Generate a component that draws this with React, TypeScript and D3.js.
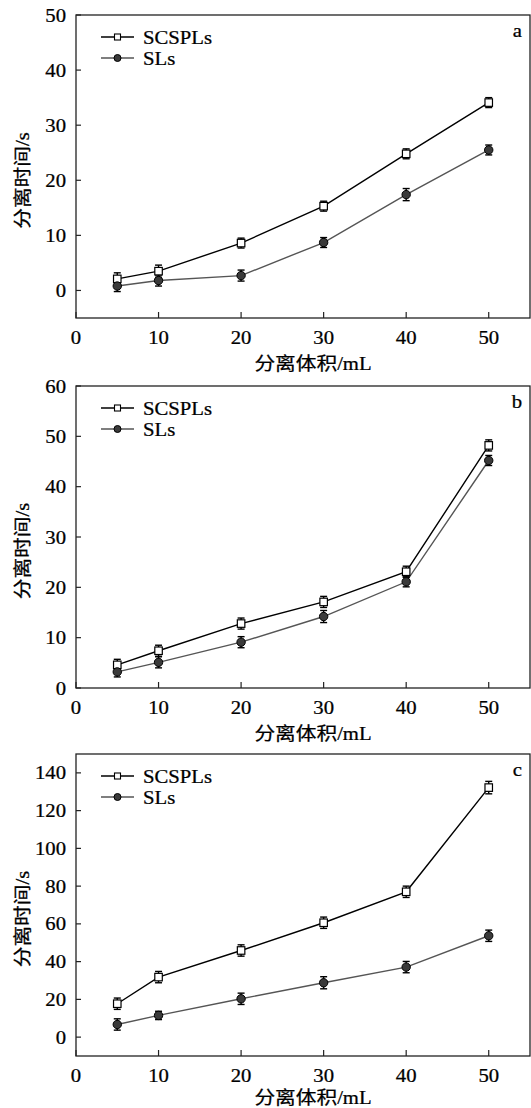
import React from "react";
import * as d3 from "d3";

const volumes = [5, 10, 20, 30, 40, 50];
const xTicks = [0, 10, 20, 30, 40, 50];

const aSCSPLs = [2.1, 3.5, 8.6, 15.3, 24.8, 34.1];
const aSCSPLsErr = [1.1, 1.1, 0.9, 0.9, 0.9, 0.9];
const aSLs = [0.8, 1.8, 2.7, 8.7, 17.4, 25.5];
const aSLsErr = [1.0, 1.0, 1.0, 0.9, 1.1, 0.9];
const aYTicks = [0, 10, 20, 30, 40, 50];

const bSCSPLs = [4.6, 7.4, 12.8, 17.1, 23.1, 48.2];
const bSCSPLsErr = [1.1, 1.1, 1.1, 1.1, 1.1, 1.1];
const bSLs = [3.2, 5.1, 9.1, 14.2, 21.1, 45.2];
const bSLsErr = [1.0, 1.1, 1.1, 1.2, 1.0, 1.0];
const bYTicks = [0, 10, 20, 30, 40, 50, 60];

const cSCSPLs = [17.7, 31.8, 45.9, 60.6, 77.0, 132.2];
const cSCSPLsErr = [3.0, 3.0, 3.0, 3.0, 3.0, 3.3];
const cSLs = [6.7, 11.5, 20.3, 28.8, 37.1, 53.7];
const cSLsErr = [3.0, 2.2, 3.0, 3.2, 3.0, 3.0];
const cYTicks = [0, 20, 40, 60, 80, 100, 120, 140];

const seriesNames = ["SCSPLs", "SLs"];
const panelLetters = ["a", "b", "c"];
const xLabel = "分离体积/mL";
const yLabel = "分离时间/s";

const FONT = "'Liberation Serif', 'Times New Roman', 'Noto Sans CJK SC', serif";
const SX = 1.15;

function T({
  x,
  y,
  anchor = "start",
  size = 18,
  rotate = 0,
  children,
}: {
  x: number;
  y: number;
  anchor?: string;
  size?: number;
  rotate?: number;
  children: React.ReactNode;
}) {
  return (
    <text
      transform={`translate(${x},${y})${rotate ? ` rotate(${rotate})` : ""} scale(${SX},1)`}
      textAnchor={anchor}
      fontSize={size}
      fill="#000"
      stroke="#000"
      strokeWidth={0.25}
    >
      {children}
    </text>
  );
}

type PanelProps = {
  top: number;
  bottom: number;
  yDomain: [number, number];
  yTicks: number[];
  s1: number[];
  e1: number[];
  s2: number[];
  e2: number[];
  letter: string;
  xLabelDy: number;
};

function Panel({ top, bottom, yDomain, yTicks, s1, e1, s2, e2, letter, xLabelDy }: PanelProps) {
  const left = 76;
  const right = 530;
  const x = d3.scaleLinear().domain([0, 55]).range([left, right]);
  const y = d3.scaleLinear().domain(yDomain).range([bottom, top]);
  const line = d3
    .line<number>()
    .x((_, i) => x(volumes[i]))
    .y((d) => y(d));
  const cap = 3.5;
  const errBars = (vals: number[], errs: number[], color: string) =>
    vals.map((v, i) => {
      const cx = x(volumes[i]);
      const y1 = y(v + errs[i]);
      const y2 = y(v - errs[i]);
      return (
        <g key={i} stroke={color} strokeWidth={1.4}>
          <line x1={cx} x2={cx} y1={y1} y2={y2} />
          <line x1={cx - cap} x2={cx + cap} y1={y1} y2={y1} />
          <line x1={cx - cap} x2={cx + cap} y1={y2} y2={y2} />
        </g>
      );
    });
  const midY = (top + bottom) / 2 + 14;
  return (
    <g fontFamily={FONT}>
      {yTicks.map((t) => (
        <g key={"y" + t}>
          <line x1={left} x2={left + 5} y1={y(t)} y2={y(t)} stroke="#222" strokeWidth={1.2} />
          <T x={left - 10} y={y(t) + 6.5} anchor="end">
            {t}
          </T>
        </g>
      ))}
      {xTicks.map((t) => (
        <g key={"x" + t}>
          <line x1={x(t)} x2={x(t)} y1={bottom} y2={bottom - 6} stroke="#222" strokeWidth={1.2} />
          <T x={x(t)} y={bottom + 26} anchor="middle">
            {t}
          </T>
        </g>
      ))}
      <rect x={left} y={top} width={right - left} height={bottom - top} fill="none" stroke="#222" strokeWidth={1.3} />
      <path d={line(s1) || ""} fill="none" stroke="#000" strokeWidth={1.4} />
      <path d={line(s2) || ""} fill="none" stroke="#555" strokeWidth={1.4} />
      {errBars(s1, e1, "#000")}
      {errBars(s2, e2, "#000")}
      {s1.map((v, i) => (
        <rect key={"m1" + i} x={x(volumes[i]) - 3.75} y={y(v) - 3.75} width={7.5} height={7.5} fill="#fff" stroke="#000" strokeWidth={1.2} />
      ))}
      {s2.map((v, i) => (
        <circle key={"m2" + i} cx={x(volumes[i])} cy={y(v)} r={4.2} fill="#3a3a3a" stroke="#000" strokeWidth={1} />
      ))}
      <line x1={101} x2={134} y1={top + 22} y2={top + 22} stroke="#000" strokeWidth={1.4} />
      <rect x={117.5 - 3} y={top + 22 - 3} width={6} height={6} fill="#fff" stroke="#000" strokeWidth={1.1} />
      <T x={143} y={top + 28.5}>{seriesNames[0]}</T>
      <line x1={101} x2={134} y1={top + 43} y2={top + 43} stroke="#555" strokeWidth={1.4} />
      <circle cx={117.5} cy={top + 43} r={3.5} fill="#3a3a3a" stroke="#000" strokeWidth={1} />
      <T x={143} y={top + 49.5}>{seriesNames[1]}</T>
      <T x={522} y={top + 22} anchor="end">
        {letter}
      </T>
      <T x={313} y={bottom + xLabelDy} anchor="middle">
        {xLabel}
      </T>
      <T x={29} y={midY} anchor="middle" rotate={-90}>
        {yLabel}
      </T>
    </g>
  );
}

export default function App() {
  return (
    <svg width={531} height={1108} style={{ position: "absolute", left: 0, top: 0, background: "#fff" }}>
      <rect width={531} height={1108} fill="#fff" />
      <Panel top={15} bottom={318} yDomain={[-5, 50]} yTicks={aYTicks} s1={aSCSPLs} e1={aSCSPLsErr} s2={aSLs} e2={aSLsErr} letter={panelLetters[0]} xLabelDy={52} />
      <Panel top={386} bottom={688} yDomain={[0, 60]} yTicks={bYTicks} s1={bSCSPLs} e1={bSCSPLsErr} s2={bSLs} e2={bSLsErr} letter={panelLetters[1]} xLabelDy={52} />
      <Panel top={754} bottom={1056} yDomain={[-10, 150]} yTicks={cYTicks} s1={cSCSPLs} e1={cSCSPLsErr} s2={cSLs} e2={cSLsErr} letter={panelLetters[2]} xLabelDy={48} />
    </svg>
  );
}
